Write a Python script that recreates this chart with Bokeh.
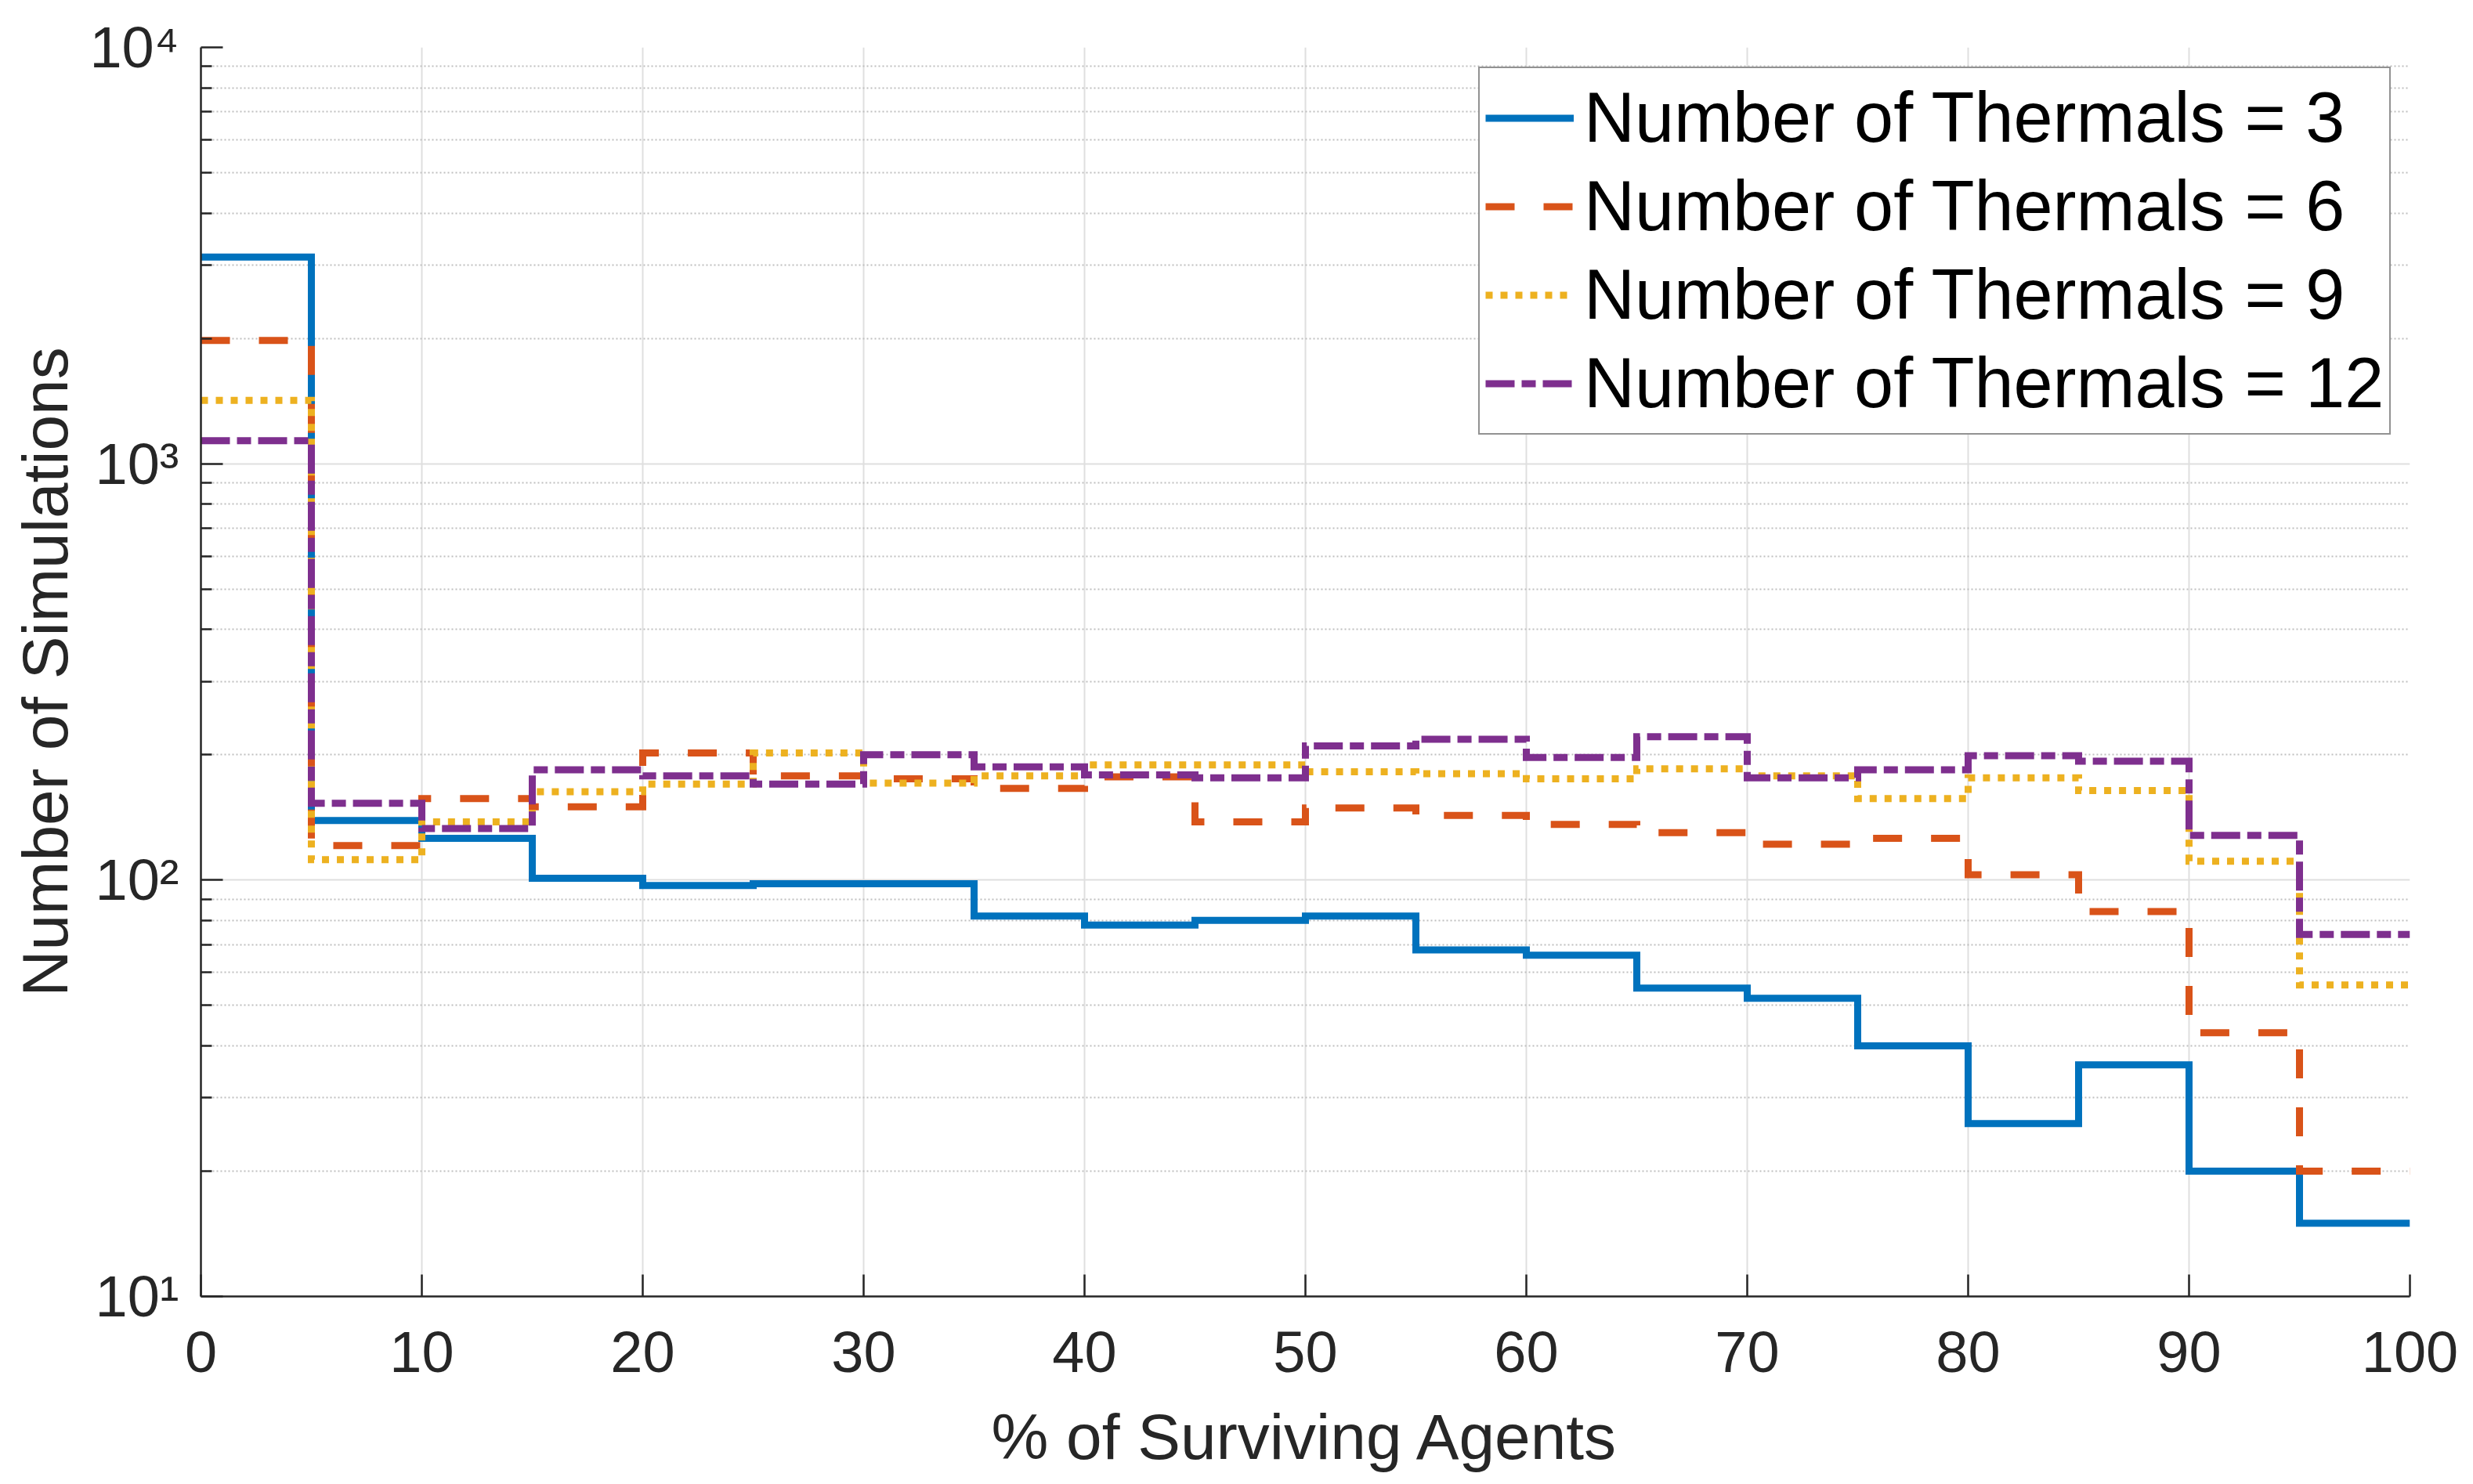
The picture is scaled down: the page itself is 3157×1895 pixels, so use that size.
from bokeh.plotting import figure
from bokeh.models import (FixedTicker, Legend, LegendItem, CustomJSTickFormatter, Range1d)
from bokeh.embed import file_html
from bokeh.resources import INLINE

# ---------------- data ----------------
bin_edges = [0, 5, 10, 15, 20, 25, 30, 35, 40, 45, 50, 55, 60, 65, 70, 75, 80, 85, 90, 95, 100]
counts_thermals_3 = [3135, 139, 126, 101, 97, 98, 98, 82, 78, 80, 82, 68, 66, 55, 52, 40, 26, 36, 20, 15]
counts_thermals_6 = [1977, 121, 157, 150, 202, 178, 175, 166, 177, 138, 149, 143, 136, 130, 122, 126, 103, 84, 43, 20]
counts_thermals_9 = [1420, 112, 138, 163, 170, 202, 171, 178, 189, 189, 182, 180, 175, 185, 178, 157, 176, 164, 111, 56]
counts_thermals_12 = [1136, 153, 133, 184, 178, 170, 200, 187, 179, 176, 210, 218, 197, 221, 176, 184, 199, 193, 128, 74]
series_labels = ["Number of Thermals = 3", "Number of Thermals = 6",
                 "Number of Thermals = 9", "Number of Thermals = 12"]
x_ticks = [0, 10, 20, 30, 40, 50, 60, 70, 80, 90, 100]
y_major_ticks = [10, 100, 1000, 10000]

# ---------------- styles ----------------
colors = ["#0072BD", "#D95319", "#EDB120", "#7E2F8E"]
dashes = ["solid", "37 37", "9 10", "37 9 18 9"]
axis_color = "#262626"
main_font = "Liberation Sans"

W, H = 3150, 1888
p = figure(width=W, height=H, x_range=Range1d(0, 100), y_range=Range1d(10, 10000),
           y_axis_type="log", output_backend="svg", toolbar_location=None,
           min_border_left=256, min_border_top=60, min_border_right=W - 3076,
           min_border_bottom=H - 1655)
p.outline_line_color = None
p.background_fill_color = "white"
p.border_fill_color = "white"


def stairs(edges, counts):
    xs, ys = [], []
    for i, c in enumerate(counts):
        xs += [edges[i], edges[i + 1]]
        ys += [c, c]
    return xs, ys


all_counts = [counts_thermals_3, counts_thermals_6, counts_thermals_9, counts_thermals_12]
items = []
for counts, col, dash, lab in zip(all_counts, colors, dashes, series_labels):
    xs, ys = stairs(bin_edges, counts)
    r = p.line(xs, ys, line_color=col, line_width=9, line_dash=dash, line_join="miter")
    items.append(LegendItem(label=lab, renderers=[r]))

legend = Legend(items=items, location=(1631, 1100))
legend.label_text_font = main_font
legend.label_text_font_size = "90px"
legend.label_text_color = "black"
legend.border_line_color = axis_color
legend.border_line_width = 2.5
legend.background_fill_color = "white"
legend.background_fill_alpha = 1.0
legend.padding = 7
legend.spacing = 0
legend.margin = 0
legend.glyph_width = 113
legend.glyph_height = 113
legend.label_height = 113
legend.label_width = 1021
legend.label_standoff = 13
p.add_layout(legend)

# ---------------- axes ----------------
p.xaxis.ticker = FixedTicker(ticks=x_ticks)
p.xaxis.major_label_standoff = 45
p.xaxis.axis_label = "% of Surviving Agents"
p.xaxis.axis_label_standoff = 34

minor = [m * 10 ** k for k in range(1, 4) for m in range(2, 10)]
p.yaxis.ticker = FixedTicker(ticks=y_major_ticks, minor_ticks=minor)
p.yaxis.formatter = CustomJSTickFormatter(code="""
    const sup = {1: '\u00b9', 2: '\u00b2', 3: '\u00b3', 4: '\u2074'};
    return '10' + sup[Math.round(Math.log10(tick))];
""")
p.yaxis.major_label_standoff = 28
p.yaxis.axis_label = "Number of Simulations"
p.yaxis.axis_label_standoff = 8

for ax in (p.xaxis[0], p.yaxis[0]):
    ax.axis_line_color = axis_color
    ax.axis_line_width = 2.5
    ax.major_tick_line_color = axis_color
    ax.major_tick_line_width = 2.5
    ax.minor_tick_line_color = axis_color
    ax.minor_tick_line_width = 2.5
    ax.major_tick_in = 28
    ax.major_tick_out = 0
    ax.minor_tick_in = 14
    ax.minor_tick_out = 0
    ax.major_label_text_font = main_font
    ax.major_label_text_font_size = "74px"
    ax.major_label_text_color = axis_color
    ax.axis_label_text_font = main_font
    ax.axis_label_text_font_size = "82px"
    ax.axis_label_text_font_style = "normal"
    ax.axis_label_text_color = axis_color

# ---------------- grid ----------------
p.xgrid.grid_line_color = "#dfdfdf"
p.xgrid.grid_line_width = 2
p.ygrid.grid_line_color = "#dfdfdf"
p.ygrid.grid_line_width = 2
p.ygrid.minor_grid_line_color = "#bfbfbf"
p.ygrid.minor_grid_line_width = 2
p.ygrid.minor_grid_line_dash = "2 3"

open("out.html", "w").write(file_html(p, INLINE))
